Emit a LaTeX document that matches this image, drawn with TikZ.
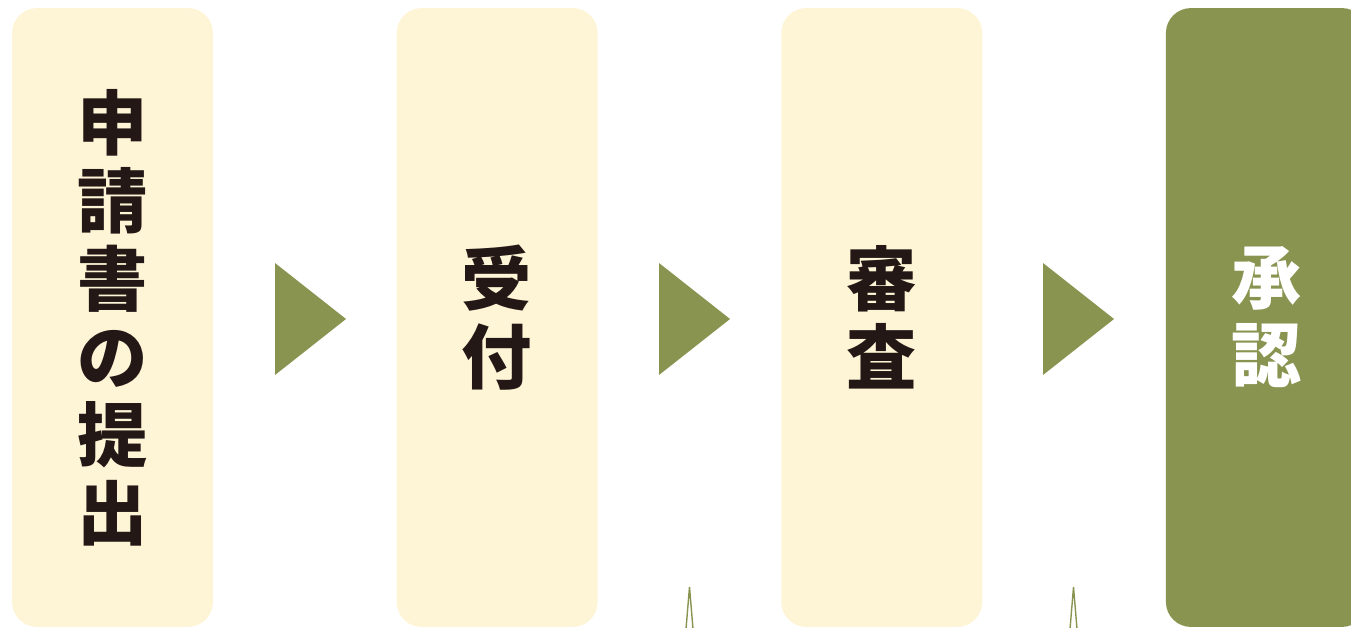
\documentclass[tikz,border=0pt]{standalone}
\usepackage{fontspec}
\newfontfamily\jpfont{Noto Sans CJK JP}
\usetikzlibrary{positioning}
\definecolor{creamfill}{HTML}{FEF4D6}
\definecolor{olivefill}{HTML}{889450}
\definecolor{inkdark}{HTML}{231815}
\newcommand*{\flowarrow}[1]{%
  \fill [olivefill] (#1) ++(0,-56) -- ++(71,56) -- ++(-71,56) -- cycle;
}

\begin{document}
\begin{tikzpicture}[x=0.02cm, y=-0.02cm,
    every node/.style = {font=\jpfont\bfseries\fontsize{40}{44.4}\selectfont, align=center},
    stage/.style = {fill=creamfill, text=inkdark, rounded corners=0.5cm,
                    minimum width=4.02cm, minimum height=12.38cm, inner sep=0pt},
    stagedone/.style = {stage, fill=olivefill, text=white},
    spike/.style = {draw=olivefill, line width=0.8pt, line join=miter}]
		\useasboundingbox (0,0) rectangle (1351,628);
		\clip (0,0) rectangle (1351,628);
		\node[stage] (apply) at (112.5,317.5) {申\\請\\書\\の\\提\\出};
		\node[stage, right=3.66cm of apply] (accept) {受\\付};
		\node[stage, right=3.66cm of accept] (review) {審\\査};
		\node[stagedone, right=3.66cm of review] (approve) {承\\認};
		% arrows between the stages
		\coordinate (a1) at (275,319);
		\coordinate (a2) at (659,319);
		\coordinate (a3) at (1043,319);
		\flowarrow{a1}
		\flowarrow{a2}
		\flowarrow{a3}
		% thin marks at the bottom
		\draw[spike] (686,629) -- (689.5,587) -- (693,629);
		\draw[spike] (1070,629) -- (1073.5,587) -- (1077,629);
\end{tikzpicture}
\end{document}
